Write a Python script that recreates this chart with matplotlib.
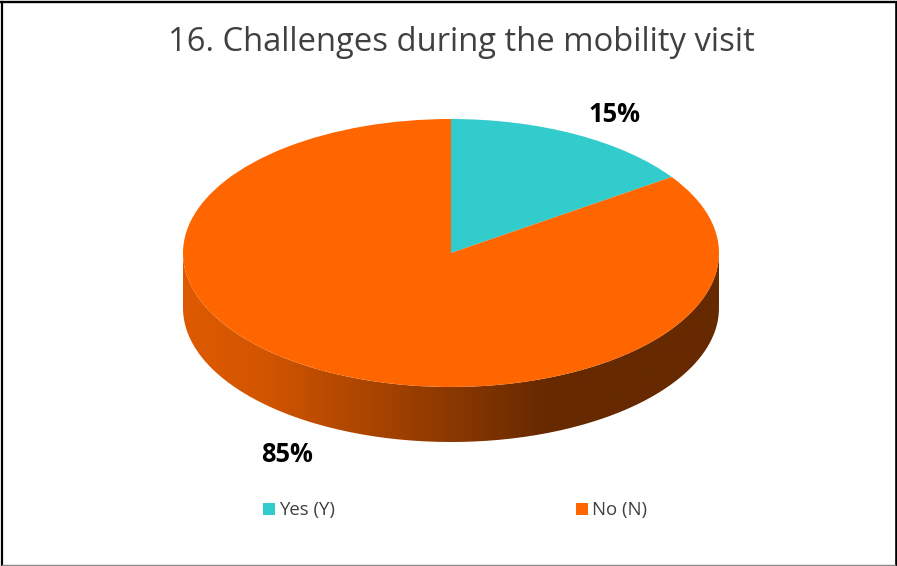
import numpy as np
import matplotlib
matplotlib.use("Agg")
import matplotlib.pyplot as plt
from matplotlib.colors import LinearSegmentedColormap
from matplotlib.patches import PathPatch, Rectangle
from matplotlib.path import Path

# Chart data
title = "16. Challenges during the mobility visit"
labels = ["Yes (Y)", "No (N)"]
shares = [15.4, 84.6]  # printed rounded, the slice edge sits a bit past 15
colors = ["#33CCCC", "#FF6600"]

W, H = 897, 566
plt.rcParams['font.family'] = ['Open Sans', 'DejaVu Sans']

fig = plt.figure(figsize=(W / 100, H / 100), dpi=100, facecolor='white')


def px(x, y):
    return x / W, 1 - y / H


# Outer border of the chart: black on three sides, grey at the bottom
fig.add_artist(plt.Line2D([2 / W, 2 / W], [0, 1 - 2 / H], color='black', linewidth=1.6))
fig.add_artist(plt.Line2D([895.6 / W, 895.6 / W], [0, 1 - 2 / H], color='black', linewidth=1.9))
fig.add_artist(plt.Line2D([1 / W, 897 / W], [1 - 2 / H, 1 - 2 / H], color='black', linewidth=1.7))
fig.add_artist(plt.Line2D([2 / W, 895 / W], [0.7 / H, 0.7 / H], color='#888888', linewidth=1.0))

# Axes covers the pie and its side wall, data units are pie radii
left, right, top, bottom = 183, 719, 119, 442
ry = 134
depth = (bottom - top - 2 * ry) / ry
ax = fig.add_axes([left / W, 1 - bottom / H, (right - left) / W, (bottom - top) / H])

wedges, _ = ax.pie(shares, colors=colors, startangle=90, counterclock=False, radius=1,
                   wedgeprops={'linewidth': 0}, normalize=True)
for w in wedges:
    w.set_zorder(3)
ax.set_aspect('auto')
ax.axis('off')

# Side wall of the cylinder with horizontal shading
t = np.linspace(np.pi, 2 * np.pi, 200)
xs = np.cos(t)
ys = np.sin(t)
verts = np.r_[np.c_[xs, ys], np.c_[xs[::-1], ys[::-1] - depth], [[xs[0], ys[0]]]]
side = PathPatch(Path(verts), transform=ax.transData, facecolor='none', edgecolor='none')
ax.add_patch(side)
shade = LinearSegmentedColormap.from_list('side', [(0, '#DE5A00'), (0.15, '#D25500'), (0.68, '#662900'), (1, '#662900')])
im = ax.imshow(np.linspace(0, 1, 512)[None, :], cmap=shade, extent=[-1, 1, -1 - depth, 1],
               aspect='auto', zorder=2, interpolation='bilinear')
im.set_clip_path(side)
ax.set_xlim(-1, 1)
ax.set_ylim(-1 - depth, 1)

# Title
fig.text(*px(461.5, 42.5), title, fontsize=23.6, color='#404040', ha='center', va='center')

# Data labels
fig.text(*px(614.5, 114), f"{shares[0]:.0f}%", fontsize=18.4, fontweight='bold', color='black', ha='center', va='center')
fig.text(*px(287.5, 455), f"{shares[1]:.0f}%", fontsize=18.4, fontweight='bold', color='black', ha='center', va='center')

# Legend
for x, c, lab in zip([263, 576], colors, labels):
    fig.add_artist(Rectangle((x / W, 1 - 515 / H), 12 / W, 12 / H, transform=fig.transFigure,
                             facecolor=c, edgecolor='none'))
    fig.text(*px(x + 16, 510), lab, fontsize=13.4, color='#404040', ha='left', va='center')

fig.savefig("out.png", dpi=100)
